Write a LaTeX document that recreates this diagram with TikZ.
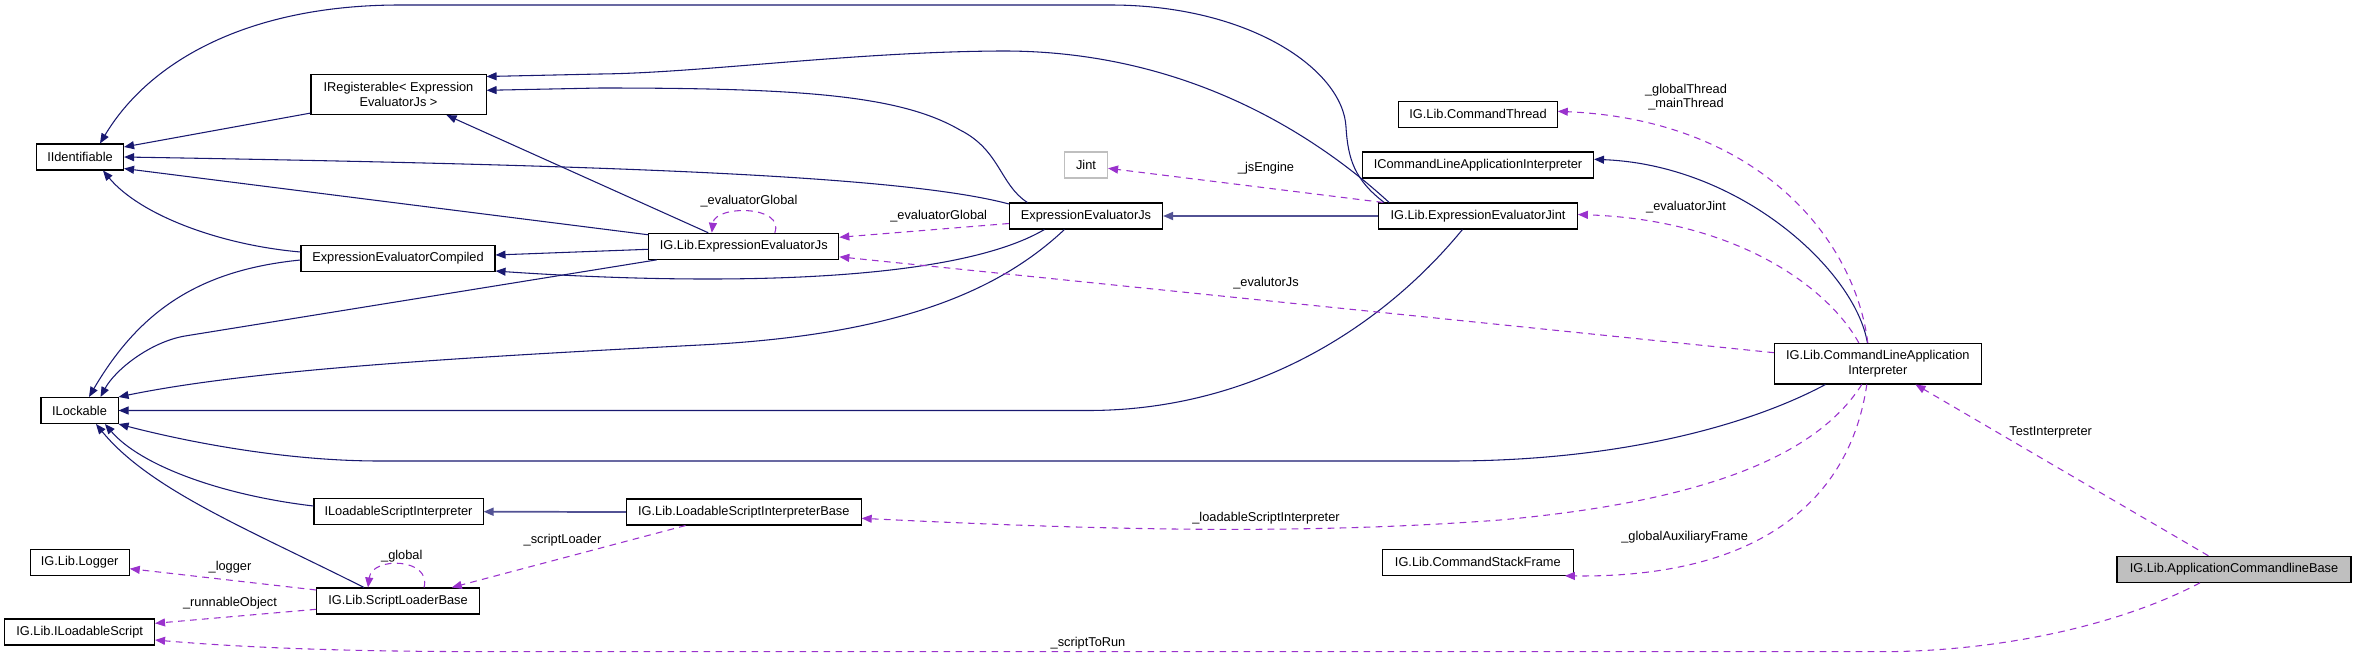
\documentclass[tikz,border=0pt]{standalone}
\usepackage{fontspec}
\setmainfont{Liberation Sans}
\usetikzlibrary{arrows.meta,calc,positioning}
\definecolor{inhblue}{HTML}{191970}
\definecolor{usepurple}{HTML}{9A32CD}
\definecolor{boxgray}{HTML}{BFBFBF}
\newcommand{\dgfont}{\fontsize{9.6}{11}\selectfont}

\begin{document}
\begin{tikzpicture}[x=0.75pt, y=-0.75pt,
    cls/.style={draw=black, line width=0.8pt, fill=white, inner sep=0pt,
      minimum height=19.5pt, font=\dgfont, align=center},
    cls2/.style={cls, minimum height=30.4pt},
    inh/.style={draw=inhblue, line width=0.8pt, -{Triangle[length=7.5pt,width=6pt]}},
    inhflat/.style={inh, draw=inhblue!75, line width=1.3pt},
    use/.style={draw=usepurple, line width=0.8pt, dash pattern=on 5pt off 4pt,
      -{Triangle[length=7.5pt,width=6pt]}},
    lbl/.style={font=\dgfont, inner sep=0pt, text=black}]
  \useasboundingbox (0,0) rectangle (2356,657);

  % 类
  \node[cls, minimum width=65.3pt] (id) at (80,157) {IIdentifiable};
  \node[cls2, minimum width=131.3pt] (reg) at (398.5,94.3) {IRegisterable< Expression\\EvaluatorJs >};
  \node[cls, minimum width=145.5pt] (comp) at (398,258.5) {ExpressionEvaluatorCompiled};
  \node[cls, minimum width=142.5pt] (ejs) at (743.8,246.3) {IG.Lib.ExpressionEvaluatorJs};
  \node[cls, minimum width=114.8pt] (ee) at (1086,216) {ExpressionEvaluatorJs};
  \node[cls, draw=boxgray, minimum width=32.3pt] (jint) at (1086,165) {Jint};
  \node[cls, minimum width=118.9pt] (ct) at (1478,114.3) {IG.Lib.CommandThread};
  \node[cls, minimum width=173.3pt] (icl) at (1478,165) {ICommandLineApplicationInterpreter};
  \node[cls, minimum width=149pt] (eej) at (1478,216) {IG.Lib.ExpressionEvaluatorJint};
  \node[cls2, minimum width=155pt] (cl) at (1877.8,363.7) {IG.Lib.CommandLineApplication\\Interpreter};
  \node[cls, fill=boxgray, minimum width=175.5pt] (acb) at (2234,569.3) {IG.Lib.ApplicationCommandlineBase};
  \node[cls, minimum width=143.3pt] (csf) at (1477.8,562.3) {IG.Lib.CommandStackFrame};
  \node[cls, minimum width=57.8pt] (lk) at (79.5,410.5) {ILockable};
  \node[cls, minimum width=126.8pt] (lsi) at (398.5,511.7) {ILoadableScriptInterpreter};
  \node[cls, minimum width=176pt] (lsib) at (743.8,512) {IG.Lib.LoadableScriptInterpreterBase};
  \node[cls, minimum width=74.3pt] (log) at (79.7,562.5) {IG.Lib.Logger};
  \node[cls, minimum width=121.9pt] (slb) at (398,601) {IG.Lib.ScriptLoaderBase};
  \node[cls, minimum width=112.2pt] (ils) at (79.7,632) {IG.Lib.ILoadableScript};

  % 继承关系
  \draw[inh] ($(reg.south west)+(0,-2)$) -- ($(id.east)+(0,-10)$);
  \draw[inh] ($(ejs.north west)+(0,2)$) -- ($(id.south east)+(0,-2)$);
  \draw[inh] ($(ee.north west)+(0,1.5)$) .. controls (900,175) and (600,165) .. (id.east);
  \draw[inh] ($(comp.west)+(0,-6.5)$) .. controls (220,245) and (140,215) .. ($(id.south)+(23,0)$);
  \draw[inh] ($(eej.north west)+(6,0)$) .. controls (1355,180) and (1348,160) .. (1346,127)
    .. controls (1343,70) and (1250,5) .. (1110,5) -- (400,5)
    .. controls (250,5) and (150,60) .. ($(id.north)+(20,0)$);
  \draw[inh] ($(eej.north west)+(11,0)$) .. controls (1310,130) and (1180,50) .. (1000,51)
    .. controls (850,52) and (700,73) .. (600,74) -- ($(reg.north east)+(0,3)$);
  \draw[inh] ($(ee.north west)+(18.5,0)$) .. controls (1000,185) and (1000,150) .. (960,130)
    .. controls (900,95) and (800,88) .. (600,88) -- ($(reg.east)+(0,-4)$);
  \draw[inh] ($(ejs.north west)+(60,0)$) -- ($(reg.south east)+(-40,0)$);
  \draw[inh] ($(ejs.west)+(0,3)$) -- ($(comp.east)+(0,-3.5)$);
  \draw[inh] ($(ee.south west)+(35.5,0)$) .. controls (950,285) and (700,285) .. ($(comp.south east)+(0,-1)$);
  \draw[inhflat] (eej.west) -- (ee.east);
  \draw[inh] ($(comp.west)+(0,1.5)$) .. controls (200,270) and (140,310) .. ($(lk.north)+(9.5,0)$);
  \draw[inh] ($(ejs.south west)+(8.5,0)$) -- (185,336) .. controls (150,342) and (115,370) .. ($(lk.north)+(21,0)$);
  \draw[inh] ($(ee.south west)+(55.5,0)$) .. controls (1000,290) and (900,335) .. (700,345)
    .. controls (450,358) and (250,370) .. (lk.north east);
  \draw[inh] ($(eej.south west)+(84.3,0)$) .. controls (1380,330) and (1250,410.5) .. (1088,410.5) -- (lk.east);
  \draw[inh] ($(cl.south west)+(51.5,0)$) .. controls (1750,425) and (1620,461) .. (1450,461) -- (380,461)
    .. controls (280,461) and (180,440) .. (lk.south east);
  \draw[inh] ($(cl.north)+(-10.4,0)$) .. controls (1855,270) and (1740,165) .. ($(icl.east)+(0,-5.7)$);
  \draw[inh] ($(lsi.west)+(0,-5.7)$) .. controls (220,495) and (140,465) .. ($(lk.south)+(25.5,0)$);
  \draw[inh] ($(slb.north)+(-34,0)$) .. controls (250,530) and (150,490) .. ($(lk.south)+(16.5,0)$);
  \draw[inhflat] (lsib.west) -- (lsi.east);

  % 使用关系
  \draw[use] ($(ejs.north)+(31,0)$) .. controls (785,205) and (715,205) .. ($(ejs.north)+(-32,0)$)
    node[lbl] at (749,201) {\_evaluatorGlobal};
  \draw[use] ($(ee.west)+(0,7.5)$) -- ($(ejs.east)+(0,-9)$)
    node[lbl] at (938.7,216) {\_evaluatorGlobal};
  \draw[use] ($(eej.north west)+(5,0)$) -- ($(jint.east)+(0,3.3)$)
    node[lbl] at (1266,168.3) {\_jsEngine};
  \draw[use] ($(cl.west)+(0,-11)$) -- ($(ejs.south east)+(0,-3)$)
    node[lbl] at (1266,283.3) {\_evalutorJs};
  \draw[use] ($(cl.north)+(-10,0)$) .. controls (1855,240) and (1760,120) .. ($(ct.east)+(0,-3)$)
    node[lbl, align=center] at (1686,97) {\_globalThread\\\_mainThread};
  \draw[use] ($(cl.north)+(-19,0)$) .. controls (1830,290) and (1740,220) .. ($(eej.east)+(0,-1.5)$)
    node[lbl] at (1686,207.3) {\_evaluatorJint};
  \draw[use] ($(cl.south)+(-16,0)$) .. controls (1820,450) and (1720,500) .. (1500,520)
    .. controls (1300,535) and (1100,530) .. ($(lsib.east)+(0,6.3)$)
    node[lbl] at (1266,518.3) {\_loadableScriptInterpreter};
  \draw[use] ($(cl.south)+(-11,0)$) .. controls (1850,500) and (1760,578) .. ($(csf.south east)+(-9,0)$)
    node[lbl] at (1684.6,536.7) {\_globalAuxiliaryFrame};
  \draw[use] ($(acb.north)+(-25.6,0)$) -- ($(cl.south)+(37.7,0)$)
    node[lbl] at (2050.6,432.7) {TestInterpreter};
  \draw[use] ($(acb.south)+(-34,0)$) .. controls (2120,625) and (2000,651.7) .. (1880,651.7) -- (500,651.7)
    .. controls (350,651.7) and (250,648) .. ($(ils.east)+(0,8)$)
    node[lbl] at (1088,643.3) {\_scriptToRun};
  \draw[use] ($(lsib.south west)+(59.6,0)$) -- ($(slb.north east)+(-28,0)$)
    node[lbl] at (562.5,540) {\_scriptLoader};
  \draw[use] ($(slb.north)+(26,0)$) .. controls (432,558) and (372,556) .. ($(slb.north)+(-30,0)$)
    node[lbl] at (401.8,556) {\_global};
  \draw[use] ($(slb.west)+(0,-11)$) -- ($(log.east)+(0,6.2)$)
    node[lbl] at (230,566.7) {\_logger};
  \draw[use] ($(slb.west)+(0,8.3)$) -- ($(ils.east)+(0,-8.7)$)
    node[lbl] at (230,603.3) {\_runnableObject};
\end{tikzpicture}
\end{document}
